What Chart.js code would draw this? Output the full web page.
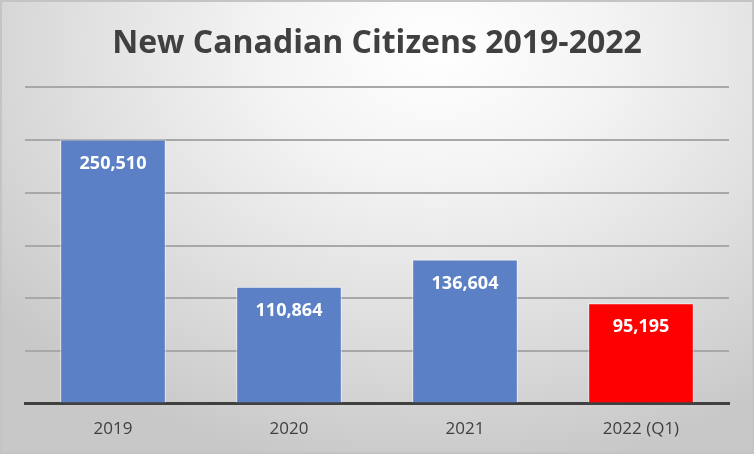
<!DOCTYPE html>
<html>
<head>
<meta charset="utf-8">
<script src="https://cdn.jsdelivr.net/npm/chart.js@4"></script>
<style>
  html, body { margin: 0; padding: 0; }
  #wrap {
    position: relative;
    width: 754px;
    height: 454px;
    box-sizing: border-box;
    border: 2px solid #c4c4c4;
    background: radial-gradient(ellipse 75% 95% at 58% 10%, #ffffff 0%, #f4f4f4 30%, #e2e2e2 60%, #d2d2d2 85%, #c8c8c8 100%);
  }
  canvas { position: absolute; left: -2px; top: -2px; }
</style>
</head>
<body>
<div id="wrap"><canvas id="chart" width="754" height="454"></canvas></div>
<script>
const categories = ['2019', '2020', '2021', '2022 (Q1)'];
const citizens = [250510, 110864, 136604, 95195];
const barColors = ['#5b80c6', '#5b80c6', '#5b80c6', '#ff0000'];
const titleText = 'New Canadian Citizens 2019-2022';

// white value labels inside the top of each bar
const valueLabels = {
  id: 'valueLabels',
  afterDatasetsDraw(chart) {
    const ctx = chart.ctx;
    const meta = chart.getDatasetMeta(0);
    ctx.save();
    ctx.fillStyle = '#ffffff';
    ctx.font = 'bold 18px "Open Sans"';
    ctx.textAlign = 'center';
    ctx.textBaseline = 'middle';
    meta.data.forEach((bar, i) => {
      ctx.fillText(citizens[i].toLocaleString('en-US'), bar.x, bar.y + 24);
    });
    ctx.restore();
  }
};

new Chart(document.getElementById('chart').getContext('2d'), {
  type: 'bar',
  data: {
    labels: categories,
    datasets: [{
      data: citizens,
      backgroundColor: barColors,
      borderColor: 'rgba(255,255,255,0.6)',
      borderWidth: 1,
      barPercentage: 0.6,
      categoryPercentage: 1
    }]
  },
  options: {
    responsive: false,
    animation: false,
    layout: { padding: { left: 25, right: 25, bottom: 0 } },
    plugins: {
      legend: { display: false },
      tooltip: { enabled: false },
      title: {
        display: true,
        text: titleText,
        color: '#404040',
        font: { family: 'Open Sans', size: 32, weight: 'bold' },
        padding: { top: 25, bottom: 24 }
      }
    },
    scales: {
      x: {
        grid: { display: false, drawTicks: false },
        border: { color: '#404040', width: 3 },
        ticks: { color: '#404040', font: { family: 'Open Sans', size: 17 }, padding: 15 }
      },
      y: {
        min: 0,
        max: 300000,
        ticks: { display: false, stepSize: 50000 },
        grid: { color: '#a8a8a8', lineWidth: 2, drawTicks: false },
        border: { display: false }
      }
    }
  },
  plugins: [valueLabels]
});
</script>
</body>
</html>
